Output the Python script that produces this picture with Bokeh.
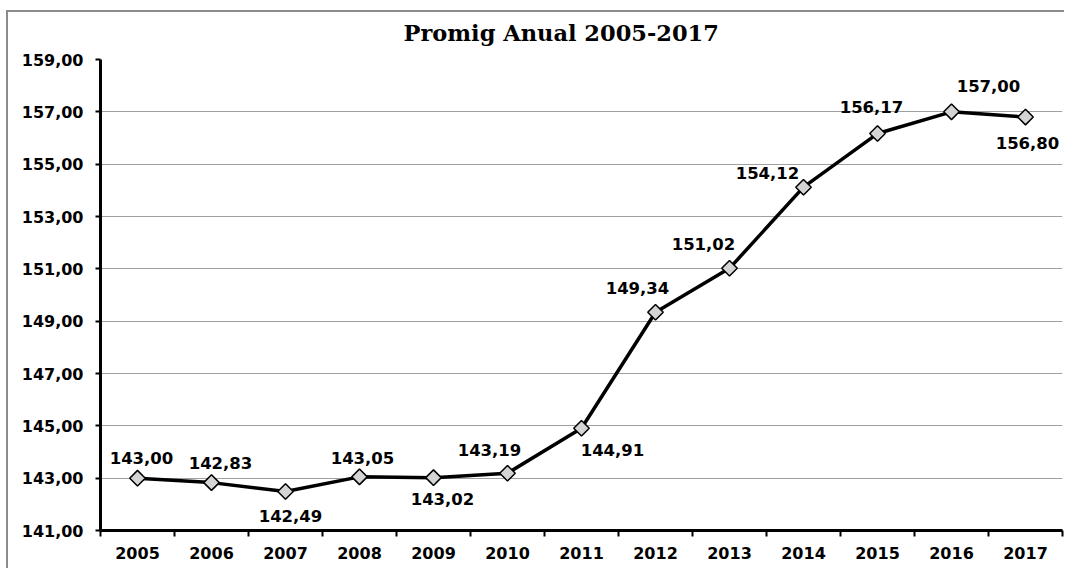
import math
from bokeh.plotting import figure
from bokeh.models import ColumnDataSource, LabelSet, Range1d, FixedTicker, Title
from bokeh.core.properties import value
from bokeh.embed import file_html
from bokeh.resources import INLINE

# ---- data ----
years = [2005, 2006, 2007, 2008, 2009, 2010, 2011, 2012, 2013, 2014, 2015, 2016, 2017]
values = [143.00, 142.83, 142.49, 143.05, 143.02, 143.19, 144.91, 149.34, 151.02, 154.12, 156.17, 157.00, 156.80]
y_ticks = [141, 143, 145, 147, 149, 151, 153, 155, 157, 159]
y_tick_labels = ["141,00", "143,00", "145,00", "147,00", "149,00", "151,00", "153,00", "155,00", "157,00", "159,00"]
x_tick_labels = ["2005", "2006", "2007", "2008", "2009", "2010", "2011", "2012", "2013", "2014", "2015", "2016", "2017"]
title_text = "Promig Anual 2005-2017"

value_labels = [f"{v:.2f}".replace(".", ",") for v in values]

# ---- label placement (screen pixels; style, not data) ----
label_dx = [4, 9, 5, 3, 9, -18, 31, -18, -26, -36, -6, 37, 2]
label_dy = [20, 20, -24, 19, -21, 23, -22, 24, 24, 14, 27, 26, -26]

FONT = "DejaVu Sans"

p = figure(width=1058, height=558, output_backend="svg", toolbar_location=None,
           title_location=None,
           x_range=Range1d(min(years) - 0.5, max(years) + 0.5),
           y_range=Range1d(min(y_ticks), max(y_ticks)),
           min_border_left=92, min_border_right=4, min_border_top=0, min_border_bottom=40)

# outer chart-area border (left/top only, as in the cropped original)
p.styles = {"margin-left": "8px", "margin-top": "12px",
            "box-shadow": "-2px -2px 0px 0px #8c8c8c"}

p.background_fill_color = "white"
p.border_fill_color = "white"
p.outline_line_color = None

# spacer (closest to frame) then the real title above it
spacer = Title(text=" ", text_font_size="1px", standoff=6)
p.add_layout(spacer, "above")
title = Title(text=title_text, align="left", offset=303,
              text_font="DejaVu Serif", text_font_size="22.5px",
              text_font_style="bold", text_color="black", standoff=10)
p.add_layout(title, "above")

# x axis: labels at centres, ticks between categories
xa = p.xaxis[0]
xa.ticker = FixedTicker(ticks=years, minor_ticks=[y - 0.5 for y in years] + [max(years) + 0.5])
xa.major_label_overrides = {y: lab for y, lab in zip(years, x_tick_labels)}
xa.major_tick_in = 0
xa.major_tick_out = 0
xa.minor_tick_in = 0
xa.minor_tick_out = 6
xa.minor_tick_line_color = "black"
xa.minor_tick_line_width = 2
xa.axis_line_width = 3
xa.axis_line_color = "black"
xa.major_label_standoff = 10
xa.major_label_text_font = FONT
xa.major_label_text_font_size = "16px"
xa.major_label_text_font_style = "bold"
xa.major_label_text_color = "black"

ya = p.yaxis[0]
ya.ticker = FixedTicker(ticks=y_ticks, minor_ticks=[])
ya.major_label_overrides = {t: lab for t, lab in zip(y_ticks, y_tick_labels)}
ya.major_tick_in = 0
ya.major_tick_out = 5
ya.major_tick_line_width = 2
ya.major_tick_line_color = "black"
ya.minor_tick_line_color = None
ya.axis_line_width = 3
ya.axis_line_color = "black"
ya.major_label_standoff = 12
ya.major_label_text_font = FONT
ya.major_label_text_font_size = "16px"
ya.major_label_text_font_style = "bold"
ya.major_label_text_color = "black"

p.xgrid.grid_line_color = None
p.ygrid.ticker = FixedTicker(ticks=y_ticks)
p.ygrid.grid_line_color = "#a0a0a0"
p.ygrid.grid_line_width = 1

src = ColumnDataSource(dict(x=years, y=values, label=value_labels,
                            dx=label_dx, dy=label_dy))

p.line("x", "y", source=src, line_color="black", line_width=3.5)
p.scatter("x", "y", source=src, marker="square", angle=math.pi / 4, size=11,
          fill_color="#d4d4d4", line_color="black", line_width=1.5)

labels = LabelSet(x="x", y="y", text="label", source=src,
                  x_offset="dx", y_offset="dy",
                  text_align="center", text_baseline="middle",
                  text_font=value(FONT), text_font_size="16.5px",
                  text_font_style="bold", text_color="black")
p.add_layout(labels)

open("out.html", "w").write(file_html(p, INLINE))
